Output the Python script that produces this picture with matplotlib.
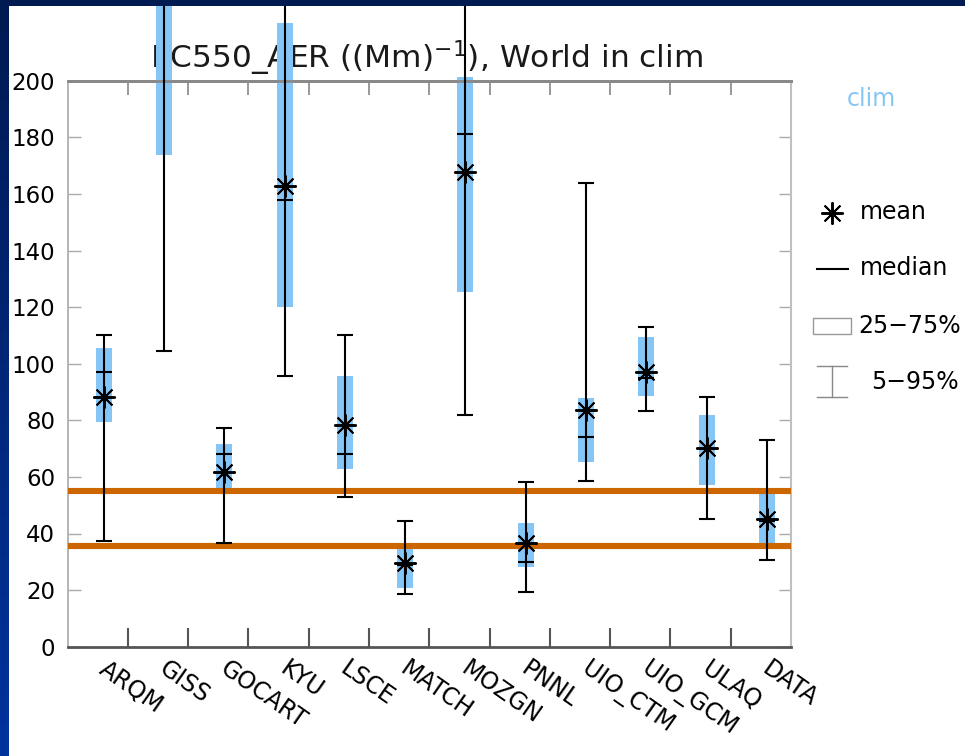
import numpy as np
import matplotlib
matplotlib.use("Agg")
import matplotlib.pyplot as plt
import matplotlib.transforms as mtransforms
from matplotlib.patches import Rectangle
from matplotlib.lines import Line2D
from matplotlib.colors import LinearSegmentedColormap

# ---------------- data ----------------
models = ['ARQM', 'GISS', 'GOCART', 'KYU', 'LSCE', 'MATCH', 'MOZGN', 'PNNL',
          'UIO_CTM', 'UIO_GCM', 'ULAQ', 'DATA']
p05 = [37.5, 104.6, 36.5, 95.8, 52.8, 18.6, 81.9, 19.2, 58.5, 83.4, 45.1, 30.6]
p25 = [79.5, 173.7, 55.5, 120.1, 62.7, 20.9, 125.3, 28.3, 65.4, 88.7, 57.1, 34.8]
median = [97.0, 232.0, 68.0, 157.8, 68.2, 29.0, 181.2, 30.0, 74.2, 95.0, 70.0, 44.5]
mean = [88.2, 238.0, 61.8, 162.8, 78.3, 29.5, 167.8, 36.7, 83.6, 97.0, 70.1, 45.1]
p75 = [105.4, 245.0, 71.5, 220.3, 95.7, 36.0, 201.2, 43.6, 87.8, 109.5, 81.9, 55.0]
p95 = [110.2, 300.0, 77.2, 280.0, 110.2, 44.3, 290.0, 58.2, 163.8, 112.9, 88.3, 73.0]
ref_lines = [55.0, 35.6]
yticks = [0, 20, 40, 60, 80, 100, 120, 140, 160, 180, 200]

# ---------------- figure ----------------
W, H = 965, 756
fig = plt.figure(figsize=(W / 100, H / 100), dpi=100)
fig.patch.set_facecolor('white')

def fx(px):
    return px / W

def fy(py):
    return 1 - py / H

ax = fig.add_axes([fx(67.5), fy(646.7), fx(791) - fx(67.5), fy(80.7) - fy(646.7)])
ax.set_xlim(0, 12)
ax.set_ylim(0, 200)

x = np.arange(len(models)) + 0.6
bw = 0.265
blue = '#86c6f7'
orange = '#cc6600'

# boxes (25-75%)
ax.bar(x, np.array(p75) - np.array(p25), bottom=p25, width=bw, color=blue,
       edgecolor='none', zorder=2, clip_on=False)
# reference lines
for r in ref_lines:
    ax.axhline(r, color=orange, lw=4.4, zorder=3, solid_capstyle='butt')
# whiskers
ax.vlines(x, p05, p95, color='black', lw=1.5, zorder=4, clip_on=False)
ax.hlines(p05, x - bw / 2, x + bw / 2, color='black', lw=1.5, zorder=4, clip_on=False)
ax.hlines(p95, x - bw / 2, x + bw / 2, color='black', lw=1.5, zorder=4, clip_on=False)
# medians
ax.hlines(median, x - bw / 2, x + bw / 2, color='black', lw=1.5, zorder=4, clip_on=False)
# means
ax.plot(x, mean, linestyle='none', marker=(8, 2, 0), ms=16, mew=1.4,
        color='black', zorder=5, clip_on=False)

# axes styling
ax.set_yticks(yticks)
ax.set_yticklabels([str(v) for v in yticks], fontsize=16.5, family='DejaVu Sans')
ax.set_xticks(np.arange(1, 12))
ax.set_xticklabels([])
ax.tick_params(axis='y', which='both', direction='in', length=9, width=1.0,
               color='#aaaaaa', left=True, right=True, pad=9, labelcolor='black')
ax.tick_params(axis='x', which='both', direction='in', length=14, width=1.5,
               color='#555555', bottom=True, top=False)
axt = ax.secondary_xaxis('top')
axt.set_xticks(np.arange(1, 12))
axt.set_xticklabels([])
axt.tick_params(direction='in', length=10, width=1.2, color='#888888')
axt.spines['top'].set_color('#888888')
axt.spines['top'].set_linewidth(2)

ax.spines['left'].set_color('#b0b0b0')
ax.spines['left'].set_linewidth(1.3)
ax.spines['right'].set_color('#c0c0c0')
ax.spines['right'].set_linewidth(1.5)
ax.spines['bottom'].set_color('#555555')
ax.spines['bottom'].set_linewidth(2)
ax.spines['top'].set_color('#888888')
ax.spines['top'].set_linewidth(2)

# x category labels
trans = mtransforms.blended_transform_factory(ax.transData, ax.transAxes)
for xi, name in zip(x, models):
    ax.text(xi + 0.08, -0.018, name, transform=trans, rotation=-35,
            rotation_mode='anchor', ha='left', va='top', fontsize=17,
            family='DejaVu Sans', color='black', zorder=1)

# title (drawn under the boxes)
ax.text(0.4965, 1.0216, 'EC550_AER ((Mm)$^{-1}$), World in clim', transform=ax.transAxes,
        ha='center', va='baseline', fontsize=22.5, family='DejaVu Sans',
        color='#1a1a1a', zorder=1)

# legend on the right
lfs = 17
fig.text(fx(847), fy(99), 'clim', color=blue, fontsize=lfs, ha='left', va='center',
         family='DejaVu Sans')
fig.add_artist(Line2D([fx(832)], [fy(213)], marker=(8, 2, 0), ms=16, mew=1.4,
                      color='black', linestyle='none'))
fig.text(fx(860), fy(212), 'mean', fontsize=lfs, ha='left', va='center', family='DejaVu Sans')
fig.add_artist(Line2D([fx(817), fx(848)], [fy(269), fy(269)], color='black', lw=1.5))
fig.text(fx(860), fy(268), 'median', fontsize=lfs, ha='left', va='center', family='DejaVu Sans')
fig.add_artist(Rectangle((fx(813), fy(334)), fx(851) - fx(813), fy(318) - fy(334),
                         facecolor='white', edgecolor='#999999', lw=1.0,
                         transform=fig.transFigure))
fig.text(fx(858), fy(326), '25\u221275%', fontsize=lfs, ha='left', va='center', family='DejaVu Sans')
fig.add_artist(Line2D([fx(832), fx(832)], [fy(366), fy(397)], color='#888888', lw=1.0))
fig.add_artist(Line2D([fx(817), fx(847)], [fy(366), fy(366)], color='#888888', lw=1.0))
fig.add_artist(Line2D([fx(817), fx(847)], [fy(397), fy(397)], color='#888888', lw=1.0))
fig.text(fx(871), fy(382), '5\u221295%', fontsize=lfs, ha='left', va='center', family='DejaVu Sans')

# dark blue frame (top band and gradient left band)
fig.add_artist(Rectangle((0, fy(6)), 1, 1 - fy(6), facecolor='#001a52',
                         edgecolor='none', transform=fig.transFigure, zorder=10))
fax = fig.add_axes([0, 0, fx(8.5), 1], zorder=10)
grad = np.linspace(0, 1, 256).reshape(-1, 1)
cmap = LinearSegmentedColormap.from_list('fr', ['#001a52', '#00339e'])
fax.imshow(grad, aspect='auto', cmap=cmap, extent=[0, 1, 0, 1], origin='upper')
fax.set_axis_off()

fig.savefig('out.png', dpi=100)
